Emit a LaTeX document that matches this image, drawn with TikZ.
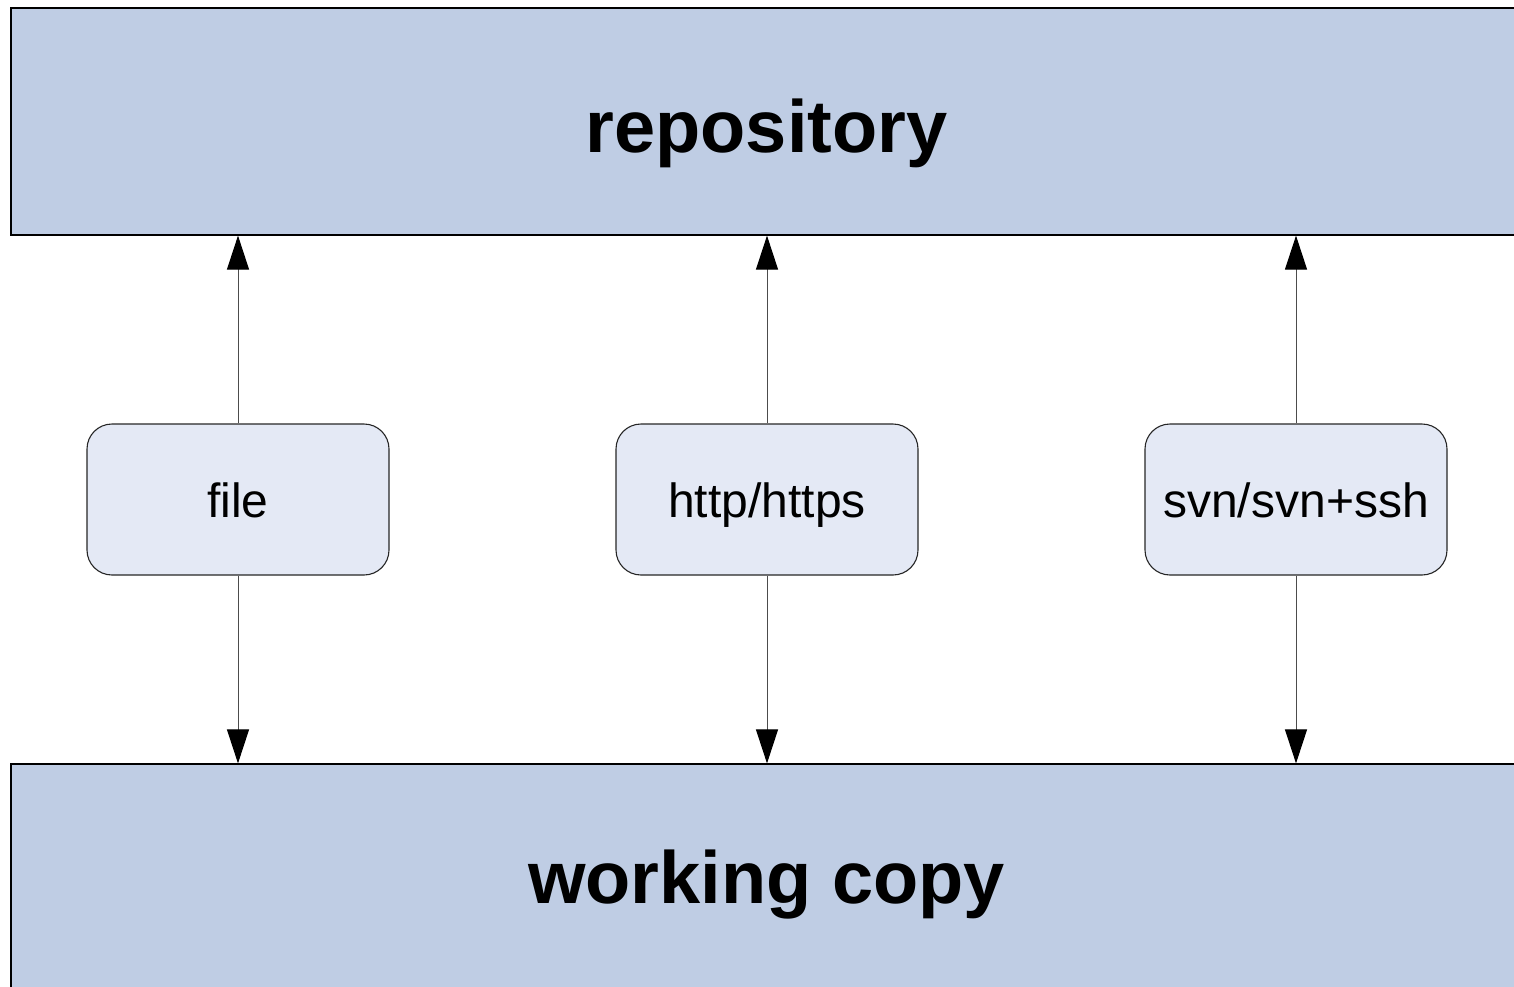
\documentclass[tikz,border=0pt]{standalone}
\usepackage{fontspec}
\setmainfont{Liberation Sans}
\usetikzlibrary{arrows.meta}
\definecolor{bigfill}{HTML}{BFCDE4}
\definecolor{smallfill}{HTML}{E4E9F5}
\tikzset{
  bigbox/.style={draw=black, fill=bigfill, line width=1.2pt, inner sep=0pt,
    minimum width=1509pt},
  bigtext/.style={anchor=base, inner sep=0pt, font=\fontsize{74}{80}\selectfont\bfseries},
  protobox/.style={draw=black!85, fill=smallfill, line width=1.1pt, rounded corners=25pt,
    minimum width=302pt, minimum height=151pt, inner sep=0pt},
  prototext/.style={anchor=base, inner sep=0pt, font=\fontsize{48}{56}\selectfont},
  link/.style={draw=black!70, line width=1pt,
    -{Triangle[length=34pt,width=22pt,fill=black,color=black]}},
}
\begin{document}
\begin{tikzpicture}[x=1pt,y=-1pt]
\useasboundingbox (0,0) rectangle (1514,986);
\clip (0,0) rectangle (1514,986);
\node[bigbox, minimum height=227pt] (repo) at (765.5,121.5) {};
\node[bigtext] (repotext) at (766.5,152) {repository};
\node[bigbox, minimum height=236pt] (wc) at (765.5,882) {};
\node[bigtext] (wctext) at (766.5,903) {working copy};
\node[protobox] (file) at (238,499.5) {};
\node[protobox] (http) at (767,499.5) {};
\node[protobox] (svn) at (1296,499.5) {};
\node[prototext] (filetext) at (238,517) {file};
\node[prototext] (httptext) at (767,517) {http/https};
\node[prototext] (svntext) at (1296,517) {svn/svn+ssh};
\foreach \n in {file,http,svn}{
  \draw[link] (\n.north) -- (\n.north |- repo.south);
  \draw[link] (\n.south) -- (\n.south |- wc.north);
}
\end{tikzpicture}
\end{document}
